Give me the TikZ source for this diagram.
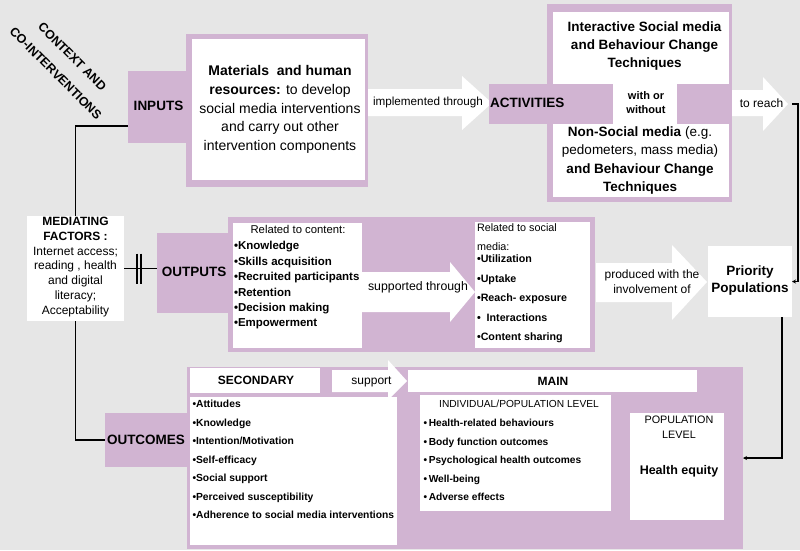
\documentclass[tikz,border=0pt]{standalone}
\usepackage{fontspec}
\setmainfont{Liberation Sans}
\usetikzlibrary{arrows.meta,calc}
\definecolor{bgc}{RGB}{230,230,230}
\definecolor{pur}{RGB}{209,180,210}
\tikzset{
  pbox/.style={fill=pur, draw=none, inner sep=0pt, outer sep=0pt, anchor=north west},
  wbox/.style={fill=white, draw=none, inner sep=0pt, outer sep=0pt, anchor=north west},
  fat/.style={fill=white, draw=none},
  txt/.style={inner sep=0pt, outer sep=0pt, align=center, text=black},
  ltxt/.style={inner sep=0pt, outer sep=0pt, align=left, anchor=west, text=black},
  conn/.style={draw=black, line width=1.3pt},
  tip/.style={-{Stealth[length=4pt,width=4pt]}}
}
\begin{document}
\begin{tikzpicture}[x=1pt,y=-1pt]
\fill[bgc] (0,0) rectangle (800,550);
\useasboundingbox (0,0) rectangle (800,550);

% rotated title
\node[txt, rotate=-45, font=\fontsize{12.5}{23.5}\selectfont\bfseries] (ctx) at (64,65) {CONTEXT AND\\CO-INTERVENTIONS};

% ---------- INPUTS ----------
\node[pbox, minimum width=62, minimum height=72] (inlbl) at (128,71) {};
\node[txt, font=\fontsize{13.5}{16}\selectfont\bfseries] (intxt) at (158.5,106) {INPUTS};
\fill[fat] (368,89) -- (462,89) -- (462,76) -- (492,103) -- (462,130) -- (462,116) -- (368,116) -- cycle;
\node[txt, font=\fontsize{11.7}{14}\selectfont] (impl) at (428,102) {implemented through};
\node[pbox, minimum width=182, minimum height=153] (matp) at (186,34) {};
\node[wbox, minimum width=173, minimum height=141] (matw) at (192,39) {};
\node[txt, font=\fontsize{14}{18.8}\selectfont] (mattxt) at (280,109.5)
  {\textbf{Materials\ \ and human}\\\textbf{resources:} to develop\\social media interventions\\and carry out other\\intervention components};

% ---------- ACTIVITIES ----------
\fill[fat] (732,90) -- (763,90) -- (763,77) -- (788,104) -- (763,131) -- (763,116) -- (732,116) -- cycle;
\node[txt, font=\fontsize{12}{14}\selectfont] (reach) at (761.5,103) {to reach};
\coordinate (reachend) at (792,104);
\node[pbox, minimum width=185, minimum height=198] (actp) at (547,4) {};
\node[wbox, minimum width=176, minimum height=72] (actw1) at (553,12) {};
\node[wbox, minimum width=176, minimum height=73] (actw2) at (553,124) {};
\node[wbox, minimum width=64, minimum height=40] (actw3) at (613,84) {};
\node[pbox, minimum width=124, minimum height=40] (actlbl) at (489,84) {};
\node[ltxt, font=\fontsize{13.5}{16}\selectfont\bfseries] (acttxt) at (490,103) {ACTIVITIES};
\node[txt, font=\fontsize{13.5}{18}\selectfont\bfseries] (acttop) at (644.5,46)
  {Interactive Social media\\and Behaviour Change\\Techniques};
\node[txt, font=\fontsize{11}{14}\selectfont\bfseries] (withor) at (646,103) {with or\\without};
\node[txt, font=\fontsize{13.5}{18.3}\selectfont] (actbot) at (640,160.5)
  {\textbf{Non-Social media} (e.g.\\pedometers, mass media)\\\textbf{and Behaviour Change}\\\textbf{Techniques}};

% ---------- MEDIATING ----------
\node[wbox, minimum width=97, minimum height=105] (med) at (27,216) {};
\node[txt, font=\fontsize{12}{14.7}\selectfont] (medtxt) at (75.5,267)
  {\textbf{MEDIATING}\\\textbf{FACTORS :}\\Internet access;\\reading , health\\and digital\\literacy;\\Acceptability};

% ---------- OUTPUTS ----------
\node[pbox, minimum width=75, minimum height=80] (outlbl) at (157,233) {};
\node[txt, font=\fontsize{13.5}{16}\selectfont\bfseries] (outtxt) at (194,272) {OUTPUTS};
\node[pbox, minimum width=367, minimum height=135] (outp) at (228,217) {};
\node[wbox, minimum width=129, minimum height=125] (outw1) at (233,223) {};
\node[wbox, minimum width=115, minimum height=126] (outw2) at (475,222) {};
\fill[fat] (362,272) -- (450,272) -- (450,262) -- (475,292) -- (450,322) -- (450,312) -- (362,312) -- cycle;
\node[txt, font=\fontsize{12.3}{14}\selectfont] (supp) at (418,287) {supported through};
\node[txt, font=\fontsize{11.3}{14}\selectfont] (relc) at (298,229) {Related to content:};
\node[ltxt, font=\fontsize{11.5}{15.4}\selectfont\bfseries] (listc) at (234,285.5)
  {•Knowledge\\•Skills acquisition\\•Recruited participants\\•Retention\\•Decision making\\•Empowerment};
\node[ltxt, font=\fontsize{10.8}{19}\selectfont] (rels) at (477,237.5) {Related to social\\media:};
\node[ltxt, font=\fontsize{10.7}{19.5}\selectfont\bfseries] (lists) at (477,299)
  {•Utilization\\•Uptake\\•Reach- exposure\\•\ \ Interactions\\•Content sharing};

% ---------- PRIORITY ----------
\fill[fat] (596,263) -- (672,263) -- (672,245) -- (707,282) -- (672,320) -- (672,302) -- (596,302) -- cycle;
\node[txt, font=\fontsize{12}{15}\selectfont] (prod) at (652,281.5) {produced with the\\involvement of};
\node[wbox, minimum width=84, minimum height=71] (prio) at (708,246) {};
\node[txt, font=\fontsize{13.5}{17}\selectfont\bfseries] (priotxt) at (750,280.5) {Priority\\Populations};

% ---------- OUTCOMES ----------
\node[pbox, minimum width=85, minimum height=54] (ocl) at (105,413) {};
\node[txt, font=\fontsize{13.5}{16}\selectfont\bfseries] (octxt) at (146,440) {OUTCOMES};
\node[pbox, minimum width=556, minimum height=182] (ocbig) at (187,367) {};
\node[wbox, minimum width=130, minimum height=25] (sech) at (190,368) {};
\node[txt, font=\fontsize{12}{14}\selectfont\bfseries] (sectxt) at (256,380.5) {SECONDARY};
\fill[fat] (332,370) -- (388,370) -- (388,360) -- (407,381) -- (388,400) -- (388,392) -- (332,392) -- cycle;
\node[txt, font=\fontsize{12}{14}\selectfont] (supt) at (371.5,382) {support};
\node[wbox, minimum width=289, minimum height=22] (mainh) at (408,370) {};
\node[txt, font=\fontsize{12}{14}\selectfont\bfseries] (maintxt) at (553,381) {MAIN};
\node[wbox, minimum width=207, minimum height=148] (secw) at (190,397) {};
\node[ltxt, font=\fontsize{10.3}{18.5}\selectfont\bfseries] (seclist) at (192.5,459.5)
  {•Attitudes\\•Knowledge\\•Intention/Motivation\\•Self-efficacy\\•Social support\\•Perceived susceptibility\\•Adherence to social media interventions};
\node[wbox, minimum width=191, minimum height=116] (indw) at (420,395) {};
\node[txt, font=\fontsize{10.2}{14}\selectfont] (indt) at (519,404) {INDIVIDUAL/POPULATION LEVEL};
\node[ltxt, font=\fontsize{10.2}{18.5}\selectfont\bfseries] (indlist) at (423.5,460)
  {•\,Health-related behaviours\\•\,Body function outcomes\\•\,Psychological health outcomes\\•\,Well-being\\•\,Adverse effects};
\node[wbox, minimum width=94, minimum height=107] (popw) at (630,413) {};
\node[txt, font=\fontsize{10.8}{15}\selectfont] (popt) at (679,427.5) {POPULATION\\LEVEL};
\node[txt, font=\fontsize{12.5}{15}\selectfont\bfseries] (eq) at (679,471) {Health equity};

% ---------- connectors ----------
\draw[conn] ([yshift=-19pt]inlbl.west) -| (med.north);
\draw[conn] (med.south) |- (ocl.west);
\draw[conn] (med.east) -- (med.east -| outlbl.west);
\draw[conn] ($(med.east)+(13,-15)$) -- ($(med.east)+(13,15)$);
\draw[conn] ($(med.east)+(17,-15)$) -- ($(med.east)+(17,15)$);
\draw[conn, tip] (reachend) -- ++(6,0) |- (prio.east);
\draw[conn, tip] ([xshift=32pt]prio.south) |- (ocbig.east);
\end{tikzpicture}
\end{document}
